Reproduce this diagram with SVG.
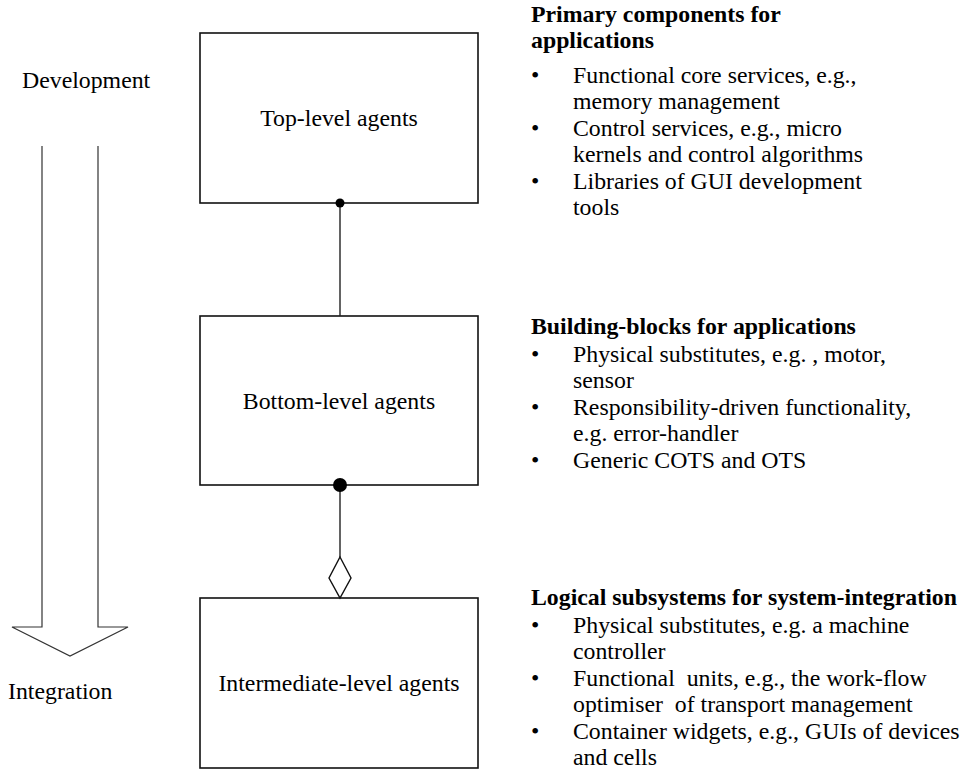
<svg xmlns="http://www.w3.org/2000/svg" width="973" height="777" viewBox="0 0 973 777">
  <style>
    text { font-family: "Liberation Serif", Tinos, "Times New Roman", Times, "DejaVu Serif", serif; font-size: 23.8px; fill: #000; }
    .head { font-weight: bold; }
    .box { fill: #fff; stroke: #111; stroke-width: 1.6; }
    .link { fill: none; stroke: #222; stroke-width: 1.4; }
    .flow { fill: none; stroke: #333; stroke-width: 1.2; }
  </style>

  <rect width="973" height="777" fill="#fff"/>

  <!-- development / integration direction arrow -->
  <g id="direction">
    <polyline class="flow" points="42,146 42,627 12,627 70,656 128,627 98,627 98,146"/>
    <text x="22" y="88">Development</text>
    <text x="8" y="699">Integration</text>
  </g>

  <!-- agent levels -->
  <g id="top-level">
    <rect class="box" x="200" y="33" width="278" height="170"/>
    <text x="339" y="126" text-anchor="middle">Top-level agents</text>
  </g>
  <g id="bottom-level">
    <rect class="box" x="200" y="316" width="278" height="169"/>
    <text x="339" y="409" text-anchor="middle">Bottom-level agents</text>
  </g>
  <g id="intermediate-level">
    <rect class="box" x="200" y="598" width="278" height="170"/>
    <text x="339" y="691" text-anchor="middle">Intermediate-level agents</text>
  </g>

  <!-- connectors between levels -->
  <g id="connectors">
    <line class="link" x1="340" y1="203" x2="340" y2="316"/>
    <circle cx="340" cy="203" r="4.5" fill="#000"/>
    <line class="link" x1="340" y1="485" x2="340" y2="557"/>
    <circle cx="340" cy="485" r="7" fill="#000"/>
    <polygon points="340,557 351,578 340,598 329,578" fill="#fff" stroke="#111" stroke-width="1.4"/>
  </g>

  <!-- descriptions -->
  <g id="primary-components">
    <text class="head" x="531" y="22">Primary components for</text>
    <text class="head" x="531" y="48">applications</text>
    <text x="531" y="83">•</text>
    <text x="573" y="83">Functional core services, e.g.,</text>
    <text x="573" y="109">memory management</text>
    <text x="531" y="136">•</text>
    <text x="573" y="136">Control services, e.g., micro</text>
    <text x="573" y="162">kernels and control algorithms</text>
    <text x="531" y="189">•</text>
    <text x="573" y="189">Libraries of GUI development</text>
    <text x="573" y="215">tools</text>
  </g>

  <g id="building-blocks">
    <text class="head" x="531" y="334">Building-blocks for applications</text>
    <text x="531" y="362">•</text>
    <text x="573" y="362">Physical substitutes, e.g. , motor,</text>
    <text x="573" y="388">sensor</text>
    <text x="531" y="415">•</text>
    <text x="573" y="415">Responsibility-driven functionality,</text>
    <text x="573" y="441">e.g. error-handler</text>
    <text x="531" y="468">•</text>
    <text x="573" y="468">Generic COTS and OTS</text>
  </g>

  <g id="logical-subsystems">
    <text class="head" x="531" y="605">Logical subsystems for system-integration</text>
    <text x="531" y="633">•</text>
    <text x="573" y="633">Physical substitutes, e.g. a machine</text>
    <text x="573" y="659">controller</text>
    <text x="531" y="686">•</text>
    <text x="573" y="686" xml:space="preserve">Functional  units, e.g., the work-flow</text>
    <text x="573" y="712" xml:space="preserve">optimiser  of transport management</text>
    <text x="531" y="739">•</text>
    <text x="573" y="739">Container widgets, e.g., GUIs of devices</text>
    <text x="573" y="765">and cells</text>
  </g>
</svg>
